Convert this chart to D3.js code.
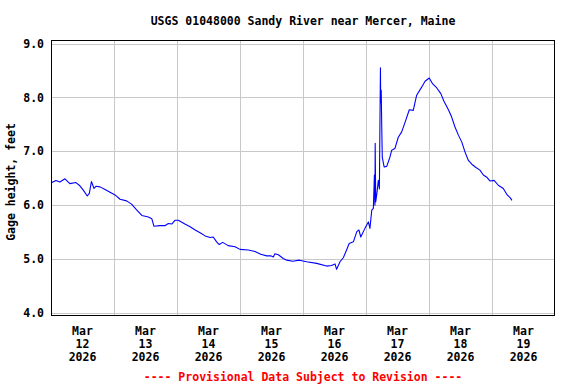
<!DOCTYPE html>
<html>
<head>
<meta charset="utf-8">
<script src="https://cdn.jsdelivr.net/npm/d3@7"></script>
<style>
  body { margin: 0; background: #fff; }
  svg text { font-family: "DejaVu Sans Mono", monospace; font-weight: bold; font-size: 11.5px; }
</style>
</head>
<body>
<svg id="chart" width="576" height="384"></svg>
<script>
// hours after 2026-03-12 00:00, gage height in feet
const hours = [
  0.3, 1.9, 3.4, 5.3, 7.2, 9.5, 11.0, 12.3, 13.8, 14.6, 15.4, 16.4, 17.1, 18.7,
  20.6, 22.5, 24.4, 26.3, 28.8, 30.7, 32.7, 34.6, 37.1, 38.4, 39.2, 41.5, 43.4,
  44.7, 46.0, 47.2, 48.5, 51.0, 53.0, 54.9, 56.8, 58.7, 60.6, 61.8, 63.1, 64.1,
  65.4, 67.5, 70.1, 72.0, 75.2, 77.7, 79.9, 82.2, 83.7, 84.7, 85.3, 86.6, 88.5,
  89.8, 92.1, 94.6, 97.4, 101.2, 105.0, 106.9, 108.2, 108.8, 110.1, 111.4, 112.6,
  113.6, 115.2, 116.5, 117.3, 118.0, 119.6, 120.9, 121.5, 122.2, 122.8, 123.2,
  123.4, 123.5, 123.7, 124.1, 124.7, 125.1, 125.3, 125.5, 125.6, 125.8, 126.0,
  126.2, 126.9, 127.9, 129.1, 129.8, 131.0, 132.3, 133.6, 134.9, 136.5, 138.0,
  139.3, 141.2, 142.5, 144.1, 145.4, 146.9, 148.5, 149.7, 151.4, 152.6, 153.9,
  155.2, 156.5, 157.7, 159.0, 160.3, 161.9, 163.4, 164.7, 166.0, 167.2, 168.8,
  170.4, 172.3, 173.8, 174.9, 175.6
];
const gage = [
  6.42, 6.46, 6.43, 6.49, 6.40, 6.42, 6.36, 6.28, 6.17, 6.22, 6.44, 6.31, 6.35, 6.34,
  6.29, 6.24, 6.19, 6.11, 6.08, 6.02, 5.91, 5.81, 5.78, 5.75, 5.61, 5.62, 5.62,
  5.66, 5.65, 5.72, 5.72, 5.65, 5.60, 5.54, 5.49, 5.43, 5.40, 5.41, 5.32, 5.27,
  5.31, 5.25, 5.23, 5.18, 5.17, 5.14, 5.09, 5.06, 5.06, 5.04, 5.10, 5.08, 5.01,
  4.98, 4.96, 4.98, 4.95, 4.92, 4.87, 4.88, 4.91, 4.81, 4.95, 5.03, 5.17,
  5.29, 5.32, 5.51, 5.54, 5.41, 5.57, 5.69, 5.57, 5.91, 5.94, 6.56,
  6.00, 7.15, 6.06, 6.20, 6.46, 6.30, 7.45, 8.55, 7.90, 8.13, 7.45,
  6.89, 6.71, 6.72, 6.89, 7.02, 7.05, 7.26, 7.36, 7.54, 7.77, 7.76,
  8.04, 8.19, 8.30, 8.36, 8.25, 8.18, 8.07, 7.93, 7.77, 7.64, 7.45,
  7.30, 7.17, 6.99, 6.83, 6.76, 6.70, 6.65, 6.56, 6.52, 6.45, 6.46,
  6.37, 6.31, 6.19, 6.14, 6.09
];
const days = [12, 13, 14, 15, 16, 17, 18, 19];
const yTicks = [4, 5, 6, 7, 8, 9];

const title = 'USGS 01048000 Sandy River near Mercer, Maine';
const yTitle = 'Gage height, feet';
const footer = '---- Provisional Data Subject to Revision ----';

const start = Date.UTC(2026, 2, 12);
const hourMs = 3600 * 1000;
const data = hours.map((h, i) => ({ t: new Date(start + h * hourMs), v: gage[i] }));

const margin = { top: 40, right: 21, bottom: 68, left: 51 };
const width = 576;
const height = 384;

const svg = d3.select('#chart');

const x = d3.scaleUtc()
  .domain([new Date(start), new Date(Date.UTC(2026, 2, 20))])
  .range([margin.left, width - margin.right]);

const y = d3.scaleLinear()
  .domain([3.944, 9.065])
  .range([height - margin.bottom, margin.top]);

// grid
const grid = svg.append('g')
  .attr('stroke', '#c8c8c8')
  .attr('stroke-width', 1)
  .attr('shape-rendering', 'crispEdges');

grid.selectAll('.hgrid')
  .data(yTicks)
  .enter()
  .append('line')
  .attr('x1', margin.left)
  .attr('x2', width - margin.right)
  .attr('y1', (d) => Math.round(y(d)) + 0.5)
  .attr('y2', (d) => Math.round(y(d)) + 0.5);

grid.selectAll('.vgrid')
  .data(days.slice(1))
  .enter()
  .append('line')
  .attr('x1', (d) => Math.round(x(new Date(Date.UTC(2026, 2, d)))) + 0.5)
  .attr('x2', (d) => Math.round(x(new Date(Date.UTC(2026, 2, d)))) + 0.5)
  .attr('y1', margin.top)
  .attr('y2', height - margin.bottom);

// line
const line = d3.line()
  .x((d) => x(d.t))
  .y((d) => y(d.v));

svg.append('path')
  .datum(data)
  .attr('fill', 'none')
  .attr('stroke', '#0000ff')
  .attr('stroke-width', 1.1)
  .attr('stroke-linejoin', 'round')
  .attr('d', line);

// frame
svg.append('rect')
  .attr('x', margin.left + 0.5)
  .attr('y', margin.top + 0.5)
  .attr('width', width - margin.left - margin.right - 1)
  .attr('height', height - margin.top - margin.bottom - 1)
  .attr('fill', 'none')
  .attr('stroke', '#000')
  .attr('stroke-width', 1.3)
  .attr('shape-rendering', 'crispEdges');

// y axis
const yAxis = svg.append('g')
  .attr('transform', `translate(${margin.left},0)`)
  .call(d3.axisLeft(y).tickValues(yTicks).tickFormat(d3.format('.1f')).tickSize(0).tickPadding(7));
yAxis.select('.domain').remove();
yAxis.selectAll('text')
  .attr('fill', '#000')
  .style('font-family', '"DejaVu Sans Mono", monospace')
  .style('font-size', '11.5px');

// x axis: labels at noon
const noon = days.map((d) => new Date(Date.UTC(2026, 2, d, 12)));
const xLabels = svg.append('g');
const lbl = xLabels.selectAll('text')
  .data(noon)
  .enter()
  .append('text')
  .attr('text-anchor', 'middle')
  .attr('x', (d) => x(d))
  .attr('y', height - margin.bottom + 19);
lbl.append('tspan').attr('x', (d) => x(d)).attr('dy', 0).text('Mar');
lbl.append('tspan').attr('x', (d) => x(d)).attr('dy', 13).text((d) => d.getUTCDate());
lbl.append('tspan').attr('x', (d) => x(d)).attr('dy', 13).text((d) => d.getUTCFullYear());

// titles
svg.append('text')
  .attr('x', (margin.left + width - margin.right) / 2)
  .attr('y', 25)
  .attr('text-anchor', 'middle')
  .text(title);

svg.append('text')
  .attr('transform', `translate(15,${(margin.top + height - margin.bottom) / 2 + 4}) rotate(-90)`)
  .attr('text-anchor', 'middle')
  .text(yTitle);

svg.append('text')
  .attr('x', (margin.left + width - margin.right) / 2)
  .attr('y', 381)
  .attr('text-anchor', 'middle')
  .attr('fill', '#ff0000')
  .text(footer);
</script>
</body>
</html>
